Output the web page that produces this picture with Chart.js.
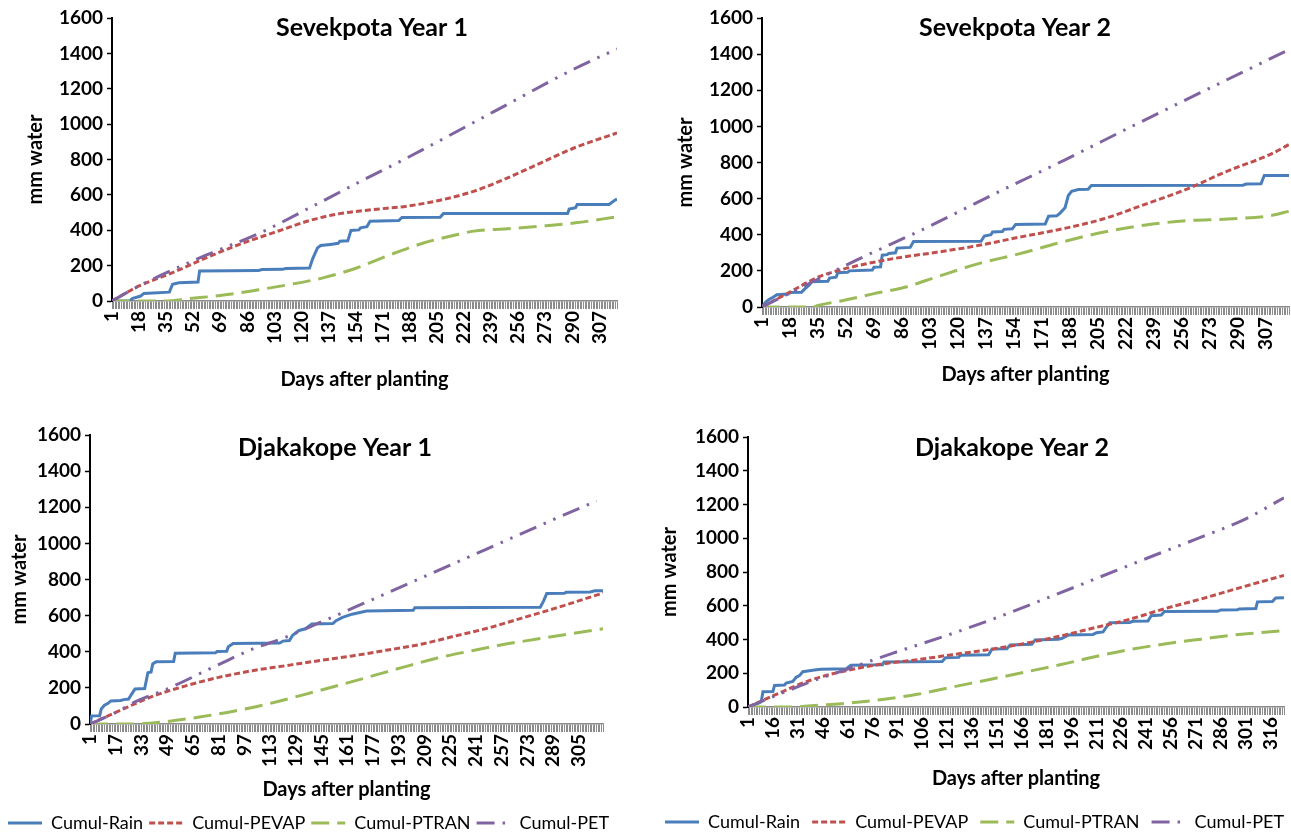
<!DOCTYPE html>
<html lang="en">
<head>
  <meta charset="UTF-8">
  <title>Cumulative water balance - Sevekpota and Djakakope</title>
  <script src="https://cdn.jsdelivr.net/npm/chart.js"></script>
  <style>
    html, body { margin: 0; padding: 0; background: #fff; overflow: hidden; width: 1291px; height: 832px; }
    .panel { position: absolute; }
  </style>
</head>
<body>
  <div class="panel" style="left:0;top:0;width:645px;height:405px"><canvas id="c1"></canvas></div>
  <div class="panel" style="left:645px;top:0;width:680px;height:405px"><canvas id="c2"></canvas></div>
  <div class="panel" style="left:0;top:415px;width:645px;height:427px"><canvas id="c3"></canvas></div>
  <div class="panel" style="left:645px;top:415px;width:680px;height:426px"><canvas id="c4"></canvas></div>
  <script>
    // ---- data: [day after planting, mm water] ----
    const seriesNames = ['Cumul-Rain', 'Cumul-PEVAP', 'Cumul-PTRAN', 'Cumul-PET'];
    const panelTitles = ['Sevekpota Year 1', 'Sevekpota Year 2', 'Djakakope Year 1', 'Djakakope Year 2'];
    const dayCounts = [318, 321, 320, 324];
    const labelSteps = [17, 17, 16, 15];
    const yTickValues = [0, 200, 400, 600, 800, 1000, 1200, 1400, 1600];

    const sev1Rain = [[1,0],[12,0],[14,15],[16,20],[19,28],[21,43],[37,50],[39,95],[43,103],[55,107],[56,169],[93,172],[95,178],[108,179],[110,184],[125,186],[127,240],[130,300],[132,314],[138,320],[143,326],[144,338],[149,340],[151,399],[156,402],[157,414],[161,420],[163,451],[181,455],[183,472],[207,474],[209,494],[287,495],[288,520],[292,528],[293,545],[313,546],[317,572],[318,575]];
    const sev1Pevap = [[1,0],[18,85],[39,160],[60,244],[81,320],[102,385],[127,460],[144,494],[165,517],[186,536],[207,570],[228,620],[249,695],[270,780],[291,865],[318,950]];
    const sev1Ptran = [[1,0],[35,0],[49,13],[70,32],[92,62],[113,94],[134,132],[155,188],[176,263],[197,329],[218,376],[228,395],[249,408],[270,423],[292,442],[318,476]];
    const sev1Pet = [[1,0],[18,85],[60,259],[94,385],[127,536],[155,667],[186,808],[241,1072],[292,1316],[318,1425]];

    const sev2Rain = [[1,0],[3,25],[5,40],[8,55],[10,68],[17,72],[18,80],[25,82],[27,100],[30,125],[31,140],[41,142],[42,160],[46,165],[47,190],[53,192],[54,200],[68,205],[69,220],[73,222],[74,287],[77,290],[78,296],[82,300],[83,326],[91,330],[93,362],[134,364],[136,393],[140,400],[141,415],[147,418],[148,430],[153,433],[155,457],[173,460],[175,503],[180,505],[182,520],[185,550],[187,617],[189,640],[193,650],[199,652],[201,673],[293,674],[295,681],[304,682],[306,728],[321,728]];
    const sev2Pevap = [[1,0],[18,83],[35,165],[51,211],[69,248],[86,276],[107,303],[132,340],[157,386],[183,432],[208,487],[234,570],[259,653],[284,754],[310,846],[321,900]];
    const sev2Ptran = [[1,0],[32,0],[35,9],[51,37],[69,74],[86,105],[107,166],[132,239],[157,294],[183,359],[208,414],[234,454],[259,478],[284,487],[310,506],[321,530]];
    const sev2Pet = [[1,0],[38,168],[59,262],[101,440],[143,630],[185,815],[226,1002],[268,1190],[321,1425]];

    const dja1Rain = [[1,0],[2,45],[7,46],[8,83],[10,104],[12,113],[14,128],[20,130],[22,135],[25,138],[27,167],[29,194],[35,196],[37,284],[39,288],[40,333],[42,344],[53,346],[54,392],[79,394],[80,401],[86,403],[87,428],[90,446],[119,448],[121,459],[125,462],[127,491],[131,518],[135,527],[139,554],[152,556],[154,572],[158,590],[164,608],[173,626],[202,630],[203,644],[281,646],[283,680],[285,722],[296,724],[297,729],[312,731],[315,738],[320,738]];
    const dja1Pevap = [[1,0],[18,68],[39,150],[60,210],[81,258],[102,295],[122,322],[143,350],[164,377],[185,408],[206,440],[227,485],[248,530],[269,585],[290,640],[320,725]];
    const dja1Ptran = [[1,0],[28,0],[49,14],[70,40],[91,72],[112,112],[133,160],[154,210],[175,262],[196,315],[217,365],[238,405],[258,440],[279,470],[300,500],[320,527]];
    const dja1Pet = [[1,0],[18,68],[29,122],[49,194],[81,329],[102,415],[122,478],[143,558],[164,640],[185,722],[206,805],[227,888],[248,970],[269,1052],[290,1135],[316,1235]];

    const dja2Rain = [[1,0],[5,15],[8,25],[9,33],[10,90],[16,92],[17,128],[23,130],[24,142],[28,152],[30,176],[32,186],[34,209],[38,215],[41,219],[45,224],[60,226],[63,247],[82,250],[83,267],[118,269],[120,292],[128,294],[129,307],[146,310],[148,343],[157,345],[159,368],[172,372],[174,397],[188,402],[190,406],[194,426],[209,430],[211,440],[215,445],[217,474],[219,499],[231,501],[233,508],[242,510],[244,541],[250,545],[252,566],[284,567],[286,575],[296,577],[297,581],[307,583],[308,623],[317,625],[319,646],[324,648]];
    const dja2Pevap = [[1,0],[18,75],[39,160],[60,215],[82,255],[103,280],[124,310],[146,340],[167,375],[189,420],[210,470],[231,520],[253,585],[274,640],[295,700],[324,780]];
    const dja2Ptran = [[1,0],[28,0],[45,12],[60,22],[82,45],[103,75],[124,118],[146,162],[167,205],[189,250],[210,298],[231,340],[253,375],[274,402],[295,428],[324,452]];
    const dja2Pet = [[1,0],[39,150],[61,225],[88,318],[121,425],[151,530],[181,645],[211,762],[241,880],[271,995],[301,1115],[324,1240]];

    const panelData = [
      [sev1Rain, sev1Pevap, sev1Ptran, sev1Pet],
      [sev2Rain, sev2Pevap, sev2Ptran, sev2Pet],
      [dja1Rain, dja1Pevap, dja1Ptran, dja1Pet],
      [dja2Rain, dja2Pevap, dja2Ptran, dja2Pet]
    ];

    // ---- styling / layout ----
    const lineColors = ['#4a7ebb', '#c0504d', '#9bbb59', '#8064a2'];
    const lineDashes = [[], [6, 3], [18, 8], [18, 8, 2.5, 8, 2.5, 8]];
    const lineWidths = [3, 3, 3, 3];

    // padR is taken by an empty right-hand axis so the legend can use the full width
    const layouts = [
      { padL: 0, padR: 28, padT: 18, yWidth: 112, yTitlePad: 24, xHeight: 104, xTitlePad: 13, legend: false, legendGap: 6, titleX: 372, titleY: 28 },
      { padL: 0, padR: 36, padT: 18, yWidth: 117, yTitlePad: 29, xHeight: 98, xTitlePad: 18, legend: false, legendGap: 6, titleX: 370, titleY: 28 },
      { padL: 2, padR: 42, padT: 20, yWidth: 88, yTitlePad: 6, xHeight: 84, xTitlePad: 6, legend: true, legendGap: 6, titleX: 335, titleY: 33 },
      { padL: 8, padR: 41, padT: 22, yWidth: 95, yTitlePad: 5, xHeight: 94, xTitlePad: 10, legend: true, legendGap: 12, titleX: 367, titleY: 33 }
    ];

    Chart.defaults.font.family = 'Lato, "Open Sans", sans-serif';
    Chart.defaults.color = '#000';

    // title drawn inside the plot, like the original
    const panelTitle = {
      id: 'panelTitle',
      afterDraw(chart, args, opts) {
        const ctx = chart.ctx;
        ctx.save();
        ctx.font = 'bold 25px Lato, sans-serif';
        ctx.fillStyle = '#000';
        ctx.textAlign = 'center';
        ctx.textBaseline = 'middle';
        ctx.fillText(opts.text, opts.x, opts.y);
        ctx.restore();
      }
    };

    function makePanel(i) {
      const L = layouts[i];
      const step = labelSteps[i];
      const datasets = panelData[i].map((pts, k) => ({
        label: seriesNames[k],
        data: pts.map(p => ({ x: p[0], y: p[1] })),
        borderColor: lineColors[k],
        backgroundColor: lineColors[k],
        borderWidth: lineWidths[k],
        borderDash: lineDashes[k],
        pointRadius: 0,
        pointHoverRadius: 0,
        fill: false,
        tension: 0,
        cubicInterpolationMode: k === 0 ? 'default' : 'monotone',
        order: 4 - k
      }));

      new Chart(document.getElementById('c' + (i + 1)), {
        type: 'line',
        data: { datasets },
        plugins: [panelTitle],
        options: {
          responsive: true,
          maintainAspectRatio: false,
          animation: false,
          events: [],
          devicePixelRatio: 1,
          layout: { padding: { left: L.padL, right: 0, top: L.padT, bottom: 0 } },
          plugins: {
            panelTitle: { text: panelTitles[i], x: L.titleX, y: L.titleY },
            tooltip: { enabled: false },
            legend: {
              display: L.legend,
              position: 'bottom',
              align: 'start',
              labels: {
                usePointStyle: true,
                pointStyleWidth: 34,
                boxHeight: 18,
                padding: L.legendGap,
                color: '#000',
                font: { size: 18 },
                generateLabels: chart => chart.data.datasets.map((ds, k) => ({
                  text: ds.label,
                  datasetIndex: k,
                  fillStyle: ds.borderColor,
                  strokeStyle: ds.borderColor,
                  lineWidth: ds.borderWidth,
                  lineDash: ds.borderDash,
                  pointStyle: 'line',
                  hidden: false
                }))
              }
            }
          },
          scales: {
            x: {
              type: 'linear',
              min: 1,
              max: dayCounts[i],
              ticks: {
                stepSize: 1,
                autoSkip: false,
                minRotation: 90,
                maxRotation: 90,
                padding: 2,
                color: '#000',
                font: { size: 19, weight: 'bold' },
                callback: v => ((v - 1) % step === 0 ? String(v) : '')
              },
              grid: { drawOnChartArea: false, tickLength: 8, tickColor: '#8c8c8c', tickWidth: 1 },
              border: { color: '#8c8c8c', width: 1.5 },
              title: {
                display: true,
                text: 'Days after planting',
                color: '#000',
                font: { size: 20, weight: 'bold' },
                padding: { top: 0, bottom: L.xTitlePad }
              },
              afterFit: s => { s.height = L.xHeight; }
            },
            y: {
              type: 'linear',
              min: 0,
              max: 1600,
              afterBuildTicks: s => { s.ticks = yTickValues.map(v => ({ value: v })); },
              ticks: { color: '#000', padding: 4, font: { size: 19, weight: 'bold' }, callback: v => String(v) },
              grid: { drawOnChartArea: false, tickLength: 5, tickColor: '#000', tickWidth: 1.5 },
              border: { color: '#000', width: 2 },
              title: {
                display: true,
                text: 'mm water',
                color: '#000',
                font: { size: 20, weight: 'bold' },
                padding: { top: L.yTitlePad, bottom: 0 }
              },
              afterFit: s => { s.width = L.yWidth; }
            },
            yRight: {
              type: 'linear',
              axis: 'y',
              position: 'right',
              display: true,
              grid: { display: false },
              border: { display: false },
              ticks: { display: false },
              afterFit: s => { s.width = L.padR; }
            }
          }
        }
      });
    }

    for (let i = 0; i < 4; i++) makePanel(i);
  </script>
</body>
</html>
